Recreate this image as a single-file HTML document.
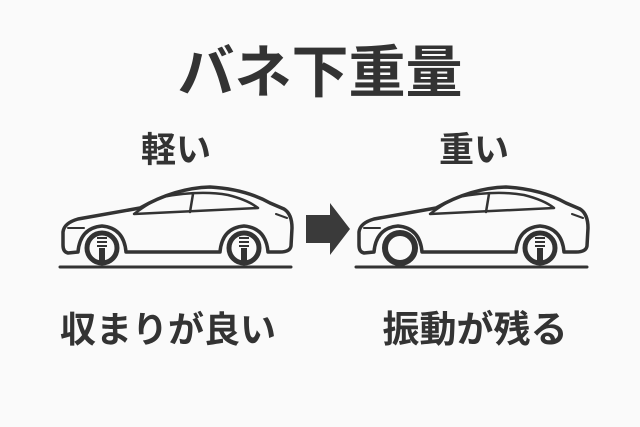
<!DOCTYPE html>
<html><head><meta charset="utf-8"><style>
body{margin:0;background:#fafafa;}
svg{display:block}
text{font-family:"Liberation Sans","Noto Sans CJK JP",sans-serif;font-weight:bold;fill:#333;text-anchor:middle}
</style></head><body>
<svg width="640" height="427" viewBox="0 0 640 427" xmlns="http://www.w3.org/2000/svg">
<rect width="640" height="427" fill="#fafafa"/>
<text x="320" y="92" font-size="57">バネ下重量</text>
<text x="176" y="162" font-size="35">軽い</text>
<text x="474" y="162" font-size="35">重い</text>
<text x="168" y="342" font-size="36">収まりが良い</text>
<text x="475" y="342" font-size="37">振動が残る</text>
<defs>
<g id="car" fill="none" stroke="#333" stroke-linejoin="round" stroke-linecap="round">
<path stroke-width="3.5" d="M68,253 Q63,252 63,245 L63,232 Q64,223 78,219 L140,208 Q175,188 210,187 Q245,189 270,203 L284,209 Q292,214 292,228 L291,246 Q290,252 280,252 L268,252 Q266,228 244,226 Q222,228 220,252 L126,252 Q124,228 102,226 Q80,228 78,252 Z"/>
<path stroke-width="2.5" d="M134,214 Q150,202 162,197 Q200,190 228,195 Q248,200 258,208 L134,214 Z"/>
<path stroke-width="2.5" d="M193,194 L190,212"/>
<path stroke-width="2" d="M68,228 L84,228 M276,214 L287,218"/>
<path stroke-width="3" d="M60,267 L291,267"/>
</g>
<g id="spring" stroke="#333" stroke-width="2" fill="none">
<path d="M-5,-10 L5,-10 M-5,-6 L5,-6 M-5,-2 L5,-2"/>
<rect x="-2" y="1" width="4" height="11" fill="#333"/>
</g>
</defs>
<use href="#car"/>
<circle cx="102" cy="248" r="15" fill="none" stroke="#333" stroke-width="5"/>
<circle cx="244" cy="248" r="15" fill="none" stroke="#333" stroke-width="5"/>
<use href="#spring" x="102" y="248"/>
<use href="#spring" x="244" y="248"/>
<g transform="translate(296,0)">
<use href="#car"/>
<circle cx="104" cy="248" r="15" fill="none" stroke="#333" stroke-width="6"/>
<circle cx="244" cy="248" r="15" fill="none" stroke="#333" stroke-width="5"/>
<use href="#spring" x="244" y="248"/>
</g>
<path d="M306,215 L330,215 L330,203 L350,229 L330,255 L330,243 L306,243 Z" fill="#3a3a3a"/>
</svg>
</body></html>
